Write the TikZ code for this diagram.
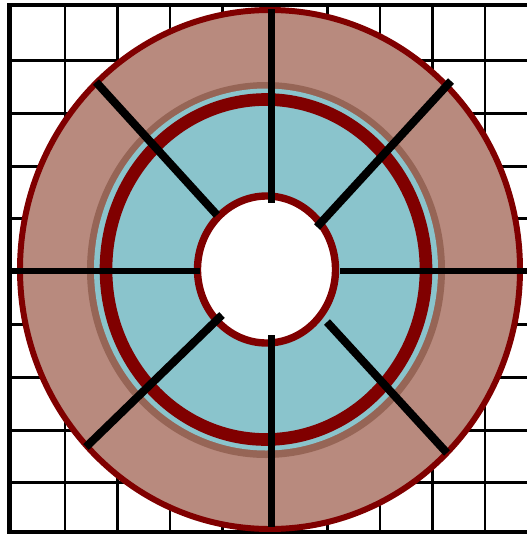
\documentclass[tikz,border=0pt]{standalone}
\usetikzlibrary{calc}
\definecolor{maroon}{RGB}{128,0,0}
\definecolor{clay}{RGB}{184,138,126}
\definecolor{umber}{RGB}{150,101,86}
\definecolor{teal}{RGB}{138,196,204}
\tikzset{
  gridline/.style={black,line width=1.7pt},
  frameline/.style={black,line width=2.6pt},
  spoke/.style={black,line width=3.7pt},
  diag/.style={black,line width=4.6pt},
}
\begin{document}
\begin{tikzpicture}[x=0.02cm,y=-0.02cm]
  \useasboundingbox (0,0) rectangle (527,535);
  \fill[white] (0,0) rectangle (527,535);
  % background grid
  \foreach \gx in {65,117.5,170,222.5,275,327.5,380,432.5,485}
    \draw[gridline] (\gx,5) -- (\gx,532);
  \foreach \gy in {60.5,113.3,166.1,218.9,271.7,324.5,377.3,430.1,482.9}
    \draw[gridline] (9.5,\gy) -- (527,\gy);
  \draw[frameline] (527,5) -- (9.5,5) -- (9.5,532) -- (527,532);
  % rings
  \draw[maroon,fill=clay,line width=3.4pt] (270,269.5) ellipse [x radius=250,y radius=259.5];
  \fill[umber] (266,270) ellipse [x radius=179,y radius=188];
  \fill[teal] (266,269.5) ellipse [x radius=172,y radius=181];
  \draw[maroon,line width=7.2pt] (266,269.5) ellipse [x radius=160,y radius=170];
  \draw[maroon,fill=white,line width=4.2pt] (266.5,269.5) ellipse [x radius=69,y radius=73.5];
  % spokes
  \draw[spoke] (271.5,9) -- (271.5,203);
  \draw[spoke] (271.5,335) -- (271.5,527);
  \draw[spoke] (9.5,271) -- (200,271);
  \draw[spoke] (340,271) -- (527,271);
  \draw[diag] (96,82) -- (217,215);
  \draw[diag] (451,81) -- (317,227);
  \draw[diag] (86,447) -- (222,315);
  \draw[diag] (447,453) -- (327,322);
\end{tikzpicture}
\end{document}
